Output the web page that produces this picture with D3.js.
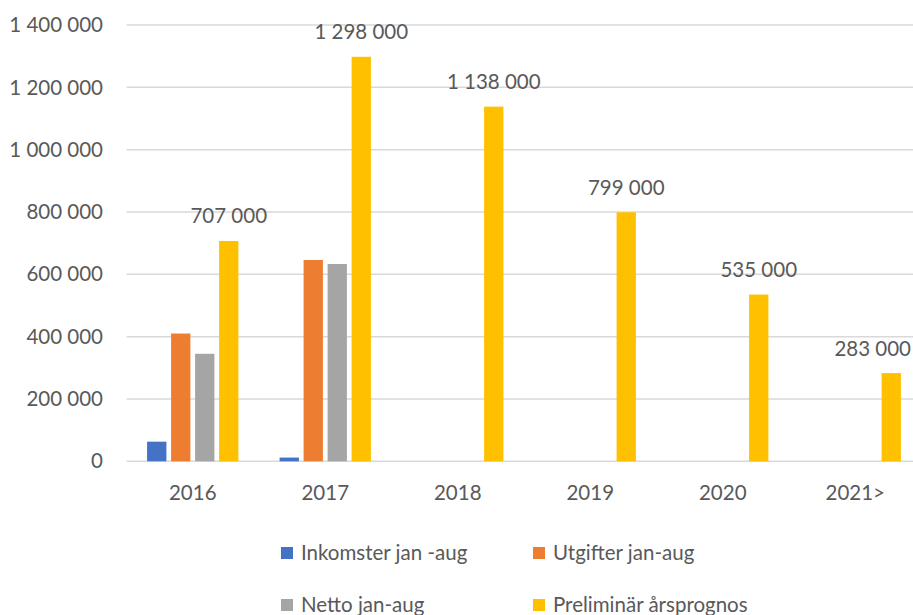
<!DOCTYPE html>
<html><head><meta charset="utf-8">
<script src="https://cdn.jsdelivr.net/npm/d3@7/dist/d3.min.js"></script>
<style>body{margin:0;background:#fff;}svg{display:block;}</style>
</head><body>
<svg id="c" width="913" height="615"></svg>
<script>
const categories = ["2016","2017","2018","2019","2020","2021>"];
const inkomster = [63000, 12000, null, null, null, null];
const utgifter  = [410000, 646000, null, null, null, null];
const netto     = [345000, 633000, null, null, null, null];
const prognos   = [707000, 1298000, 1138000, 799000, 535000, 283000];
const seriesNames = ["Inkomster jan -aug","Utgifter jan-aug","Netto jan-aug","Preliminär årsprognos"];
const colors = ["#4472C4","#ED7D31","#A5A5A5","#FFC000"];
const yTicks = [0,200000,400000,600000,800000,1000000,1200000,1400000];

const seriesVals = [inkomster, utgifter, netto, prognos];
const FONT = "Lato, 'Open Sans', sans-serif";
const FS = 20.5;
const TXT = "#595959";

const svg = d3.select("#c");
const x0 = 126.5, bandW = 132.5;
const x = d3.scaleBand().domain(categories).range([x0, x0 + bandW*categories.length]).paddingInner(0).paddingOuter(0);
const y = d3.scaleLinear().domain([0,1400000]).range([461.3, 25]);

const fmt = v => d3.format(",")(v).replace(/,/g," ");

// gridlines
svg.append("g").selectAll("line").data(yTicks).join("line")
  .attr("x1", x0).attr("x2", 913)
  .attr("y1", d=>y(d)).attr("y2", d=>y(d))
  .attr("stroke","#D9D9D9").attr("stroke-width",1.5);

// y labels
svg.append("g").selectAll("text").data(yTicks).join("text")
  .attr("x", 103).attr("y", d=>y(d)).attr("dy","0.35em")
  .attr("text-anchor","end").attr("fill",TXT)
  .style("font-family",FONT).style("font-size",FS+"px")
  .text(d=>fmt(d));

// inner group scale
const barW = 19.3, gap = 4.7;
const groupW = 4*barW + 3*gap;
const xs = d3.scaleBand().domain(d3.range(4)).range([0, groupW]).paddingInner(gap/(barW+gap)).paddingOuter(0);

seriesVals.forEach((vals, si) => {
  const data = categories.map((c,i)=>({c, v: vals[i]})).filter(d=>d.v!=null);
  svg.append("g").selectAll("rect").data(data).join("rect")
    .attr("x", d => x(d.c) + (bandW - groupW)/2 + xs(si))
    .attr("width", xs.bandwidth())
    .attr("y", d => y(d.v))
    .attr("height", d => y(0) - y(d.v))
    .attr("fill", colors[si]);
});

// value labels on prognos (kept inside the chart's right edge)
const pData = categories.map((c,i)=>({c, v: prognos[i]}));
svg.append("g").selectAll("text").data(pData).join("text")
  .attr("y", d => y(d.v) - 17.5)
  .attr("text-anchor","start").attr("fill",TXT)
  .style("font-family",FONT).style("font-size",FS+"px")
  .text(d=>fmt(d.v))
  .attr("x", function(d){
    const cx = x(d.c) + (bandW - groupW)/2 + xs(3) + xs.bandwidth()/2;
    const w = this.getComputedTextLength();
    return Math.min(cx - w/2, 911 - w);
  });

// x labels
svg.append("g").selectAll("text").data(categories).join("text")
  .attr("x", d => x(d) + bandW/2)
  .attr("y", 500)
  .attr("text-anchor","middle").attr("fill",TXT)
  .style("font-family",FONT).style("font-size",FS+"px")
  .text(d=>d);

// legend
const legPos = [[281,553],[533,553],[281,605],[533,605]];
const leg = svg.append("g").selectAll("g").data(seriesNames).join("g")
  .attr("transform",(d,i)=>`translate(${legPos[i][0]},${legPos[i][1]})`);
leg.append("rect").attr("x",0).attr("y",-6).attr("width",12).attr("height",12)
  .attr("fill",(d,i)=>colors[i]);
leg.append("text").attr("x",20).attr("y",0).attr("dy","0.35em")
  .attr("fill",TXT).style("font-family",FONT).style("font-size",FS+"px")
  .text(d=>d);
</script>
</body></html>
